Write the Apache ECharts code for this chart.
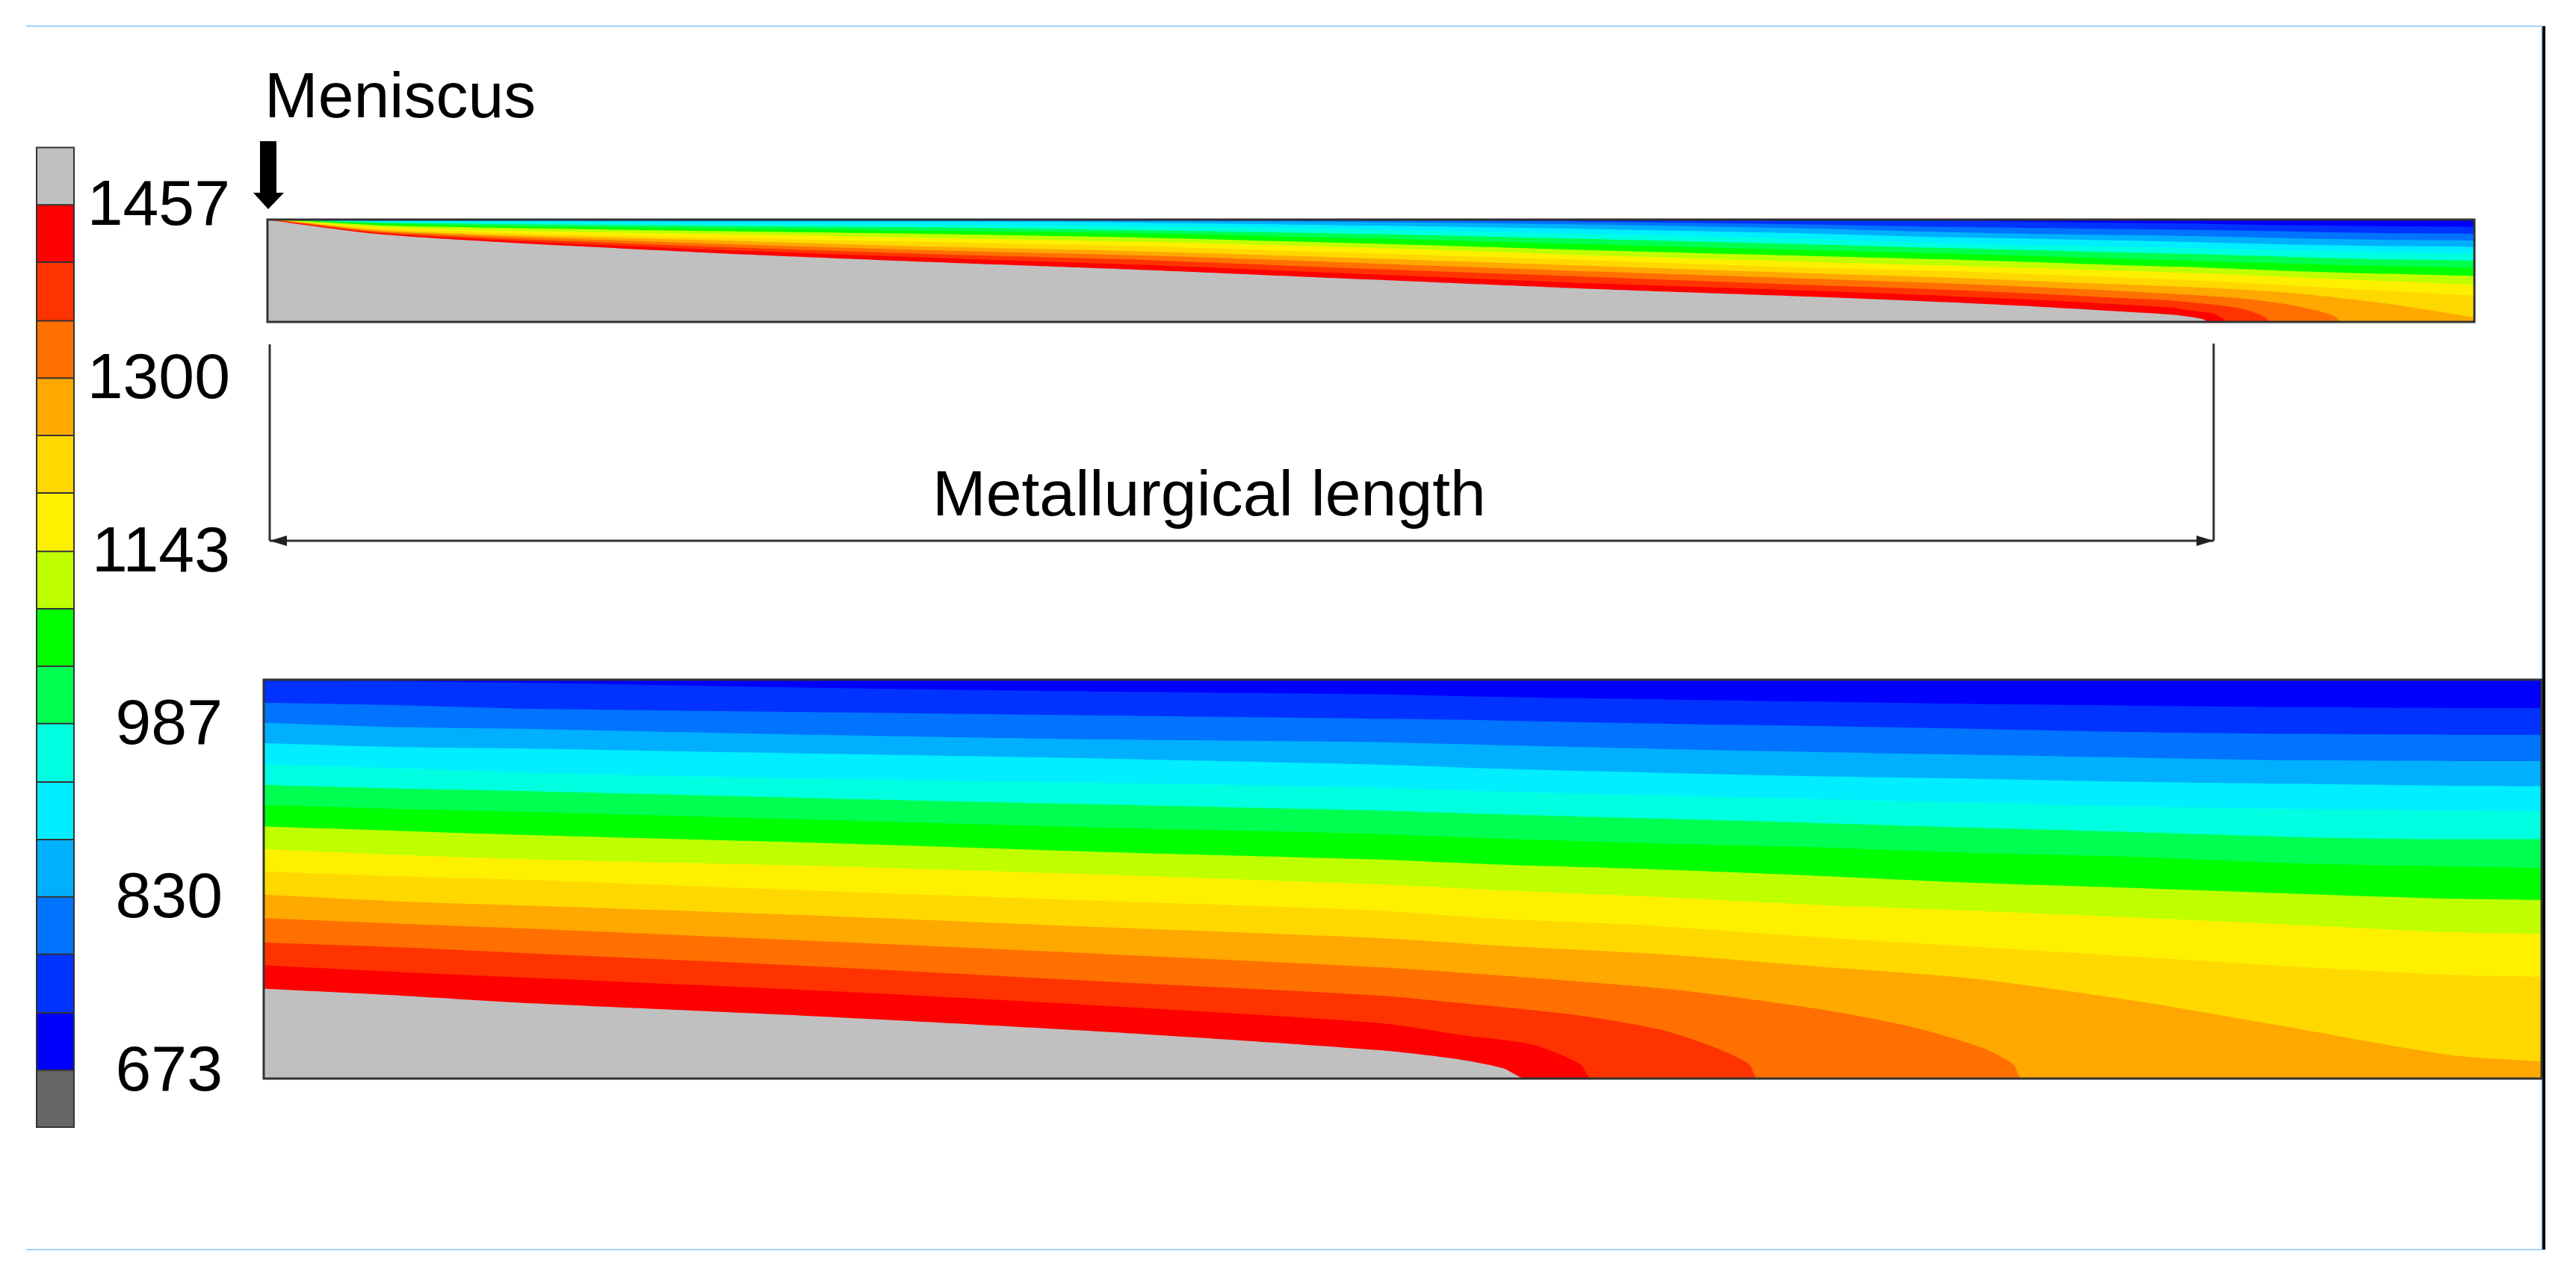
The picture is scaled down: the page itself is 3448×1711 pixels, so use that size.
<!DOCTYPE html>
<html>

	<head>
		<meta charset="utf-8">
		<title>ECharts</title>
		<script src="https://cdn.jsdelivr.net/npm/echarts@6/dist/echarts.min.js"></script>
		<style>
			html, body { margin: 0; padding: 0; background: #fff; overflow: hidden; }
		</style>
	</head>

	<body>
		<div id="main" style="width: 3448px;height:1711px;"></div>

		<script type="text/javascript">
			// colour bar: upper bound of each cell, dark grey at the bottom to grey at the top
			var legendLevels = [673, 725, 778, 830, 882, 934, 987, 1039, 1091, 1143, 1196, 1248, 1300, 1352, 1405, 1457, 1509];
			var legendColors = ['#666666', '#0000ff', '#0033ff', '#0073ff', '#00b0ff', '#00eeff', '#00ffe0', '#00ff50', '#00ff00', '#bfff00', '#fff000', '#ffd800', '#ffa800', '#ff7000', '#ff3300', '#ff0000', '#c0c0c0'];
			var legendTicks = [673, 830, 987, 1143, 1300, 1457];

			// isotherms: depth in % of the panel height, along x in % of the panel width
			// iso1 is the coldest one (near the top), iso15 is the solidus
			var upperX = [0, 1, 5, 10, 20, 30, 40, 50, 60, 70, 76, 80, 84, 88, 92, 96, 100];
			var upper1 = [0, 0, 0, 0, 0, 0, 0, 0, 0, 0.2, 0.9, 2.2, 3.3, 4.3, 5.7, 6.6, 7.1];
			var upper2 = [0, 0, 0, 0, 0, 0, 0, 0.5, 2, 4.9, 7.1, 8.2, 9.3, 10.3, 11.9, 13.3, 13.8];
			var upper3 = [0, 0, 0, 0, 0, 0.5, 1.5, 2.5, 4.9, 8.8, 12.3, 14, 15.2, 16.5, 18.5, 19.9, 20.4];
			var upper4 = [0, 0, 1, 1.5, 2, 2, 3.2, 5.9, 9.3, 13.6, 17.2, 18.8, 20.5, 22.4, 24.5, 26, 26.7];
			var upper5 = [0, 0.2, 2, 2.5, 4.4, 4.9, 6.8, 9.8, 14.1, 19, 23.2, 25, 26.7, 28.2, 30.3, 32, 33];
			var upper6 = [0, 0.4, 3, 4.4, 6.3, 7.6, 10.5, 14.1, 19, 24.3, 27.8, 30, 32.2, 34.2, 36.6, 38.9, 40];
			var upper7 = [0, 0.6, 3.9, 6.3, 8.8, 11, 13.6, 18.5, 24.3, 29.9, 33, 35.6, 38.3, 40.8, 43.2, 45.5, 47.2];
			var upper8 = [0, 0.8, 5.4, 7.8, 11.2, 14.1, 17.8, 23.4, 29.9, 35.5, 38.8, 41.5, 44.6, 47.1, 50.5, 53, 55.2];
			var upper9 = [0, 1, 7.3, 10.5, 14.1, 17.8, 21.9, 27.5, 34.8, 41.4, 45, 47.5, 50, 52.8, 56.5, 60, 63.8];
			var upper10 = [0, 1.2, 8.8, 12.7, 17.8, 21.9, 26.3, 33.1, 39.7, 47, 50.2, 53.2, 56.5, 60, 64.8, 69.6, 74.5];
			var upper11 = [0, 1.4, 10.2, 14.6, 20.2, 26.3, 31.2, 38, 45.3, 52.6, 56.6, 60, 63.3, 66.8, 72.2, 82, 95.7];
			var upperX12 = [0, 1, 5, 10, 20, 30, 40, 50, 60, 70, 76, 80, 84, 87.7, 89.8, 91.4, 92.5, 93.4, 93.8, 93.9, 100];
			var upper12 = [0, 1.8, 11.2, 16.1, 23.4, 29.9, 35.3, 42.8, 50.6, 57.9, 62.3, 65.9, 69.8, 74.2, 77.7, 82.5, 87, 92.2, 96.4, 100, 100];
			var upperX13 = [0, 1, 5, 10, 20, 30, 40, 50, 60, 70, 76, 80, 84, 86.3, 87.2, 88.6, 89.6, 90.2, 90.6, 90.7, 100];
			var upper13 = [0, 2.2, 12.2, 17.8, 26.3, 33.6, 39.7, 48.2, 56, 64, 68.4, 72.3, 76.7, 79.2, 81.1, 84.2, 87.7, 92.2, 96.4, 100, 100];
			var upperX14 = [0, 1, 5, 10, 20, 30, 40, 50, 60, 70, 76, 80, 84, 86.3, 87.2, 88.1, 88.6, 88.8, 100];
			var upper14 = [0, 2.7, 13.2, 19.5, 29.2, 37.2, 44.5, 53.5, 62.3, 69.6, 74.6, 78.3, 83, 86.1, 89.1, 91.5, 96.4, 100, 100];
			var upperX15 = [0, 1, 5, 10, 20, 30, 40, 50, 60, 70, 76, 80, 84, 86.3, 87.2, 87.7, 88, 100];
			var upper15 = [0, 3.2, 14.1, 21.4, 32.4, 41.4, 49.4, 58.6, 67.7, 75.4, 80.7, 84.8, 89.8, 92.9, 95.3, 97.4, 100, 100];

			var lowerX = [0, 6, 12, 25, 37, 49, 54, 61, 68, 75, 82, 89, 96, 100];
			var lower1 = [0, 0.4, 0.8, 2.1, 3, 3.7, 4.3, 4.9, 5.5, 6.1, 6.5, 6.9, 7.1, 7.1];
			var lower2 = [5.8, 6.4, 7.3, 8.2, 9, 9.8, 10.2, 11, 11.6, 12.3, 13.1, 13.6, 13.8, 13.8];
			var lower3 = [10.8, 11.9, 12.4, 13.9, 15, 15.7, 16.4, 17.3, 18.1, 18.8, 19.5, 20.2, 20.4, 20.4];
			var lower4 = [15.9, 16.9, 17.3, 18.6, 19.8, 21.3, 22.3, 23.3, 24.2, 24.8, 25.6, 26.1, 26.6, 26.7];
			var lower5 = [21.2, 22.2, 23.4, 24.9, 25.9, 27.1, 28, 29, 29.9, 30.8, 31.8, 32.4, 32.8, 33];
			var lower6 = [26.4, 27.3, 28, 29.8, 31.3, 32.8, 33.7, 34.8, 35.9, 37.1, 38.2, 39.4, 40, 40];
			var lower7 = [31.4, 32.4, 33.2, 35.2, 37.1, 38.7, 39.8, 41, 42, 43.4, 44.4, 46, 46.8, 47.2];
			var lower8 = [36.8, 37.9, 39, 41, 43.2, 45.1, 46.3, 47.5, 49.1, 50.9, 52.2, 53.6, 54.9, 55.2];
			var lower9 = [42.5, 43.9, 45.1, 46.8, 48.9, 51.3, 52.7, 54.4, 56.4, 57.9, 59.6, 61.4, 63.3, 63.8];
			var lower10 = [48.1, 49.3, 50.3, 53.1, 55.5, 57.9, 59.9, 61.7, 64.5, 66.9, 69.4, 71.9, 74, 74.5];
			var lower11 = [53.9, 55.6, 56.7, 59.3, 62.1, 64.8, 66.6, 68.7, 71.8, 74.9, 80.4, 87.2, 94.1, 95.7];
			var lowerX12 = [0, 6, 12, 25, 37, 49, 54.4, 61.9, 68.2, 72.3, 75.4, 76.8, 77.2, 100];
			var lower12 = [59.8, 61.2, 62.5, 65.7, 68.8, 72.1, 74.2, 77.7, 82.5, 87, 92.2, 96.4, 100, 100];
			var lowerX13 = [0, 6, 12, 25, 37, 49, 52.6, 57.8, 61.3, 63.7, 65.2, 65.6, 100];
			var lower13 = [65.9, 67.1, 68.7, 72.1, 75.7, 79.2, 81.1, 84.2, 87.7, 92.2, 96.4, 100, 100];
			var lowerX14 = [0, 6, 12, 25, 37, 49, 52.6, 55.7, 57.8, 58.3, 100];
			var lower14 = [71.6, 73.3, 74.8, 78.1, 81.8, 86.1, 89.1, 91.5, 96.4, 100, 100];
			var lowerX15 = [0, 6, 12, 25, 37, 49, 52.6, 54.4, 55.4, 100];
			var lower15 = [77.5, 79.2, 81.2, 84.6, 88.3, 92.9, 95.3, 97.4, 100, 100];

			// each contour paints its colour upwards, so the deepest one goes first
			var upperContours = [
				[upperX15, upper15, '#ff0000'], [upperX14, upper14, '#ff3300'], [upperX13, upper13, '#ff7000'],
				[upperX12, upper12, '#ffa800'], [upperX, upper11, '#ffd800'], [upperX, upper10, '#fff000'],
				[upperX, upper9, '#bfff00'], [upperX, upper8, '#00ff00'], [upperX, upper7, '#00ff50'],
				[upperX, upper6, '#00ffe0'], [upperX, upper5, '#00eeff'], [upperX, upper4, '#00b0ff'],
				[upperX, upper3, '#0073ff'], [upperX, upper2, '#0033ff'], [upperX, upper1, '#0000ff']
			];
			var lowerContours = [
				[lowerX15, lower15, '#ff0000'], [lowerX14, lower14, '#ff3300'], [lowerX13, lower13, '#ff7000'],
				[lowerX12, lower12, '#ffa800'], [lowerX, lower11, '#ffd800'], [lowerX, lower10, '#fff000'],
				[lowerX, lower9, '#bfff00'], [lowerX, lower8, '#00ff00'], [lowerX, lower7, '#00ff50'],
				[lowerX, lower6, '#00ffe0'], [lowerX, lower5, '#00eeff'], [lowerX, lower4, '#00b0ff'],
				[lowerX, lower3, '#0073ff'], [lowerX, lower2, '#0033ff'], [lowerX, lower1, '#0000ff']
			];

			var fontName = '"Liberation Sans", Arial, sans-serif';
			var upperBox = { left: 358, top: 294, width: 2954, height: 137 };
			var lowerBox = { left: 353, top: 910, width: 3049, height: 534 };
			var legendBox = { left: 48, top: 196, width: 52, height: 1313 };

			function contourSeries(list, axisIndex) {
				return list.map(function (c) {
					return {
						type: 'line',
						xAxisIndex: axisIndex,
						yAxisIndex: axisIndex,
						data: c[0].map(function (x, i) { return [x, c[1][i]]; }),
						showSymbol: false,
						silent: true,
						smooth: 0.25,
						lineStyle: { width: 0 },
						areaStyle: { color: c[2], opacity: 1, origin: 'start' }
					};
				});
			}

			// cells overlap: the tallest bar first, each lower one painted over it
			var legendSeries = legendLevels.map(function (v, i) {
				return { value: v, color: legendColors[i] };
			}).reverse().map(function (cell) {
				return {
					type: 'bar',
					xAxisIndex: 2,
					yAxisIndex: 2,
					barWidth: '100%',
					barGap: '-100%',
					silent: true,
					data: [cell.value],
					itemStyle: { color: cell.color, borderColor: '#333', borderWidth: 2 }
				};
			});

			function panelXAxis(index) {
				return { gridIndex: index, type: 'value', min: 0, max: 100, show: false };
			}

			function panelYAxis(index) {
				return { gridIndex: index, type: 'value', min: 0, max: 100, inverse: true, show: false };
			}

			function annotationLine(x1, y1, x2, y2, color, width) {
				return {
					type: 'line',
					z: 20,
					silent: true,
					shape: { x1: x1, y1: y1, x2: x2, y2: y2 },
					style: { stroke: color, lineWidth: width }
				};
			}

			function annotationText(text, x, y) {
				return {
					type: 'text',
					z: 20,
					silent: true,
					style: { text: text, x: x, y: y, fill: '#000', font: '86px ' + fontName, textVerticalAlign: 'middle' }
				};
			}

			function panelBorder(box) {
				return {
					type: 'rect',
					z: 20,
					silent: true,
					shape: { x: box.left, y: box.top, width: box.width, height: box.height },
					style: { fill: 'none', stroke: '#333', lineWidth: 3 }
				};
			}

			var myChart = echarts.init(document.getElementById('main'));

			var option = {
				animation: false,
				backgroundColor: '#ffffff',
				grid: [
					Object.assign({ show: true, backgroundColor: '#c0c0c0', borderWidth: 0 }, upperBox),
					Object.assign({ show: true, backgroundColor: '#c0c0c0', borderWidth: 0 }, lowerBox),
					Object.assign({ show: false }, legendBox)
				],
				xAxis: [
					panelXAxis(0),
					panelXAxis(1),
					{ gridIndex: 2, type: 'category', data: ['T'], show: false }
				],
				yAxis: [
					panelYAxis(0),
					panelYAxis(1),
					{
						gridIndex: 2,
						type: 'value',
						position: 'right',
						min: 620.7,
						max: 1509.3,
						splitLine: { show: false },
						axisLine: { show: false },
						axisTick: { show: false },
						axisLabel: {
							customValues: legendTicks,
							margin: 208,
							align: 'right',
							fontFamily: fontName,
							fontSize: 86,
							color: '#000',
							formatter: function (v) {
								return v >= 1000 ? '{wide|' + v + '}' : '{narrow|' + v + '}';
							},
							rich: {
								wide: { fontFamily: fontName, fontSize: 86, color: '#000', padding: [9, 0, 0, 0] },
								narrow: { fontFamily: fontName, fontSize: 86, color: '#000', padding: [9, 10, 0, 0] }
							}
						}
					}
				],
				graphic: [
					// page frame
					annotationLine(35, 35, 3403, 35, '#a9d0f5', 2),
					annotationLine(35, 1673, 3403, 1673, '#a9d0f5', 2),
					annotationLine(3402, 35, 3402, 1673, '#a9d0f5', 2),
					annotationLine(3405, 35, 3405, 1673, '#000', 4),
					panelBorder(upperBox),
					panelBorder(lowerBox),
					// meniscus label and arrow
					annotationText('Meniscus', 354, 133),
					{
						type: 'polygon',
						z: 20,
						silent: true,
						shape: { points: [[348, 189], [370, 189], [370, 258], [380, 258], [359, 280], [339, 258], [348, 258]] },
						style: { fill: '#000' }
					},
					// metallurgical length dimension
					annotationLine(361, 461, 361, 724, '#333', 3),
					annotationLine(2963, 460, 2963, 724, '#333', 3),
					annotationLine(361, 724, 2963, 724, '#333', 3),
					{
						type: 'polygon',
						z: 20,
						silent: true,
						shape: { points: [[361, 724], [384, 717], [384, 731]] },
						style: { fill: '#222' }
					},
					{
						type: 'polygon',
						z: 20,
						silent: true,
						shape: { points: [[2963, 724], [2940, 717], [2940, 731]] },
						style: { fill: '#222' }
					},
					annotationText('Metallurgical length', 1248, 666)
				],
				series: contourSeries(upperContours, 0).concat(contourSeries(lowerContours, 1), legendSeries)
			};

			myChart.setOption(option);
		</script>
	</body>

</html>
